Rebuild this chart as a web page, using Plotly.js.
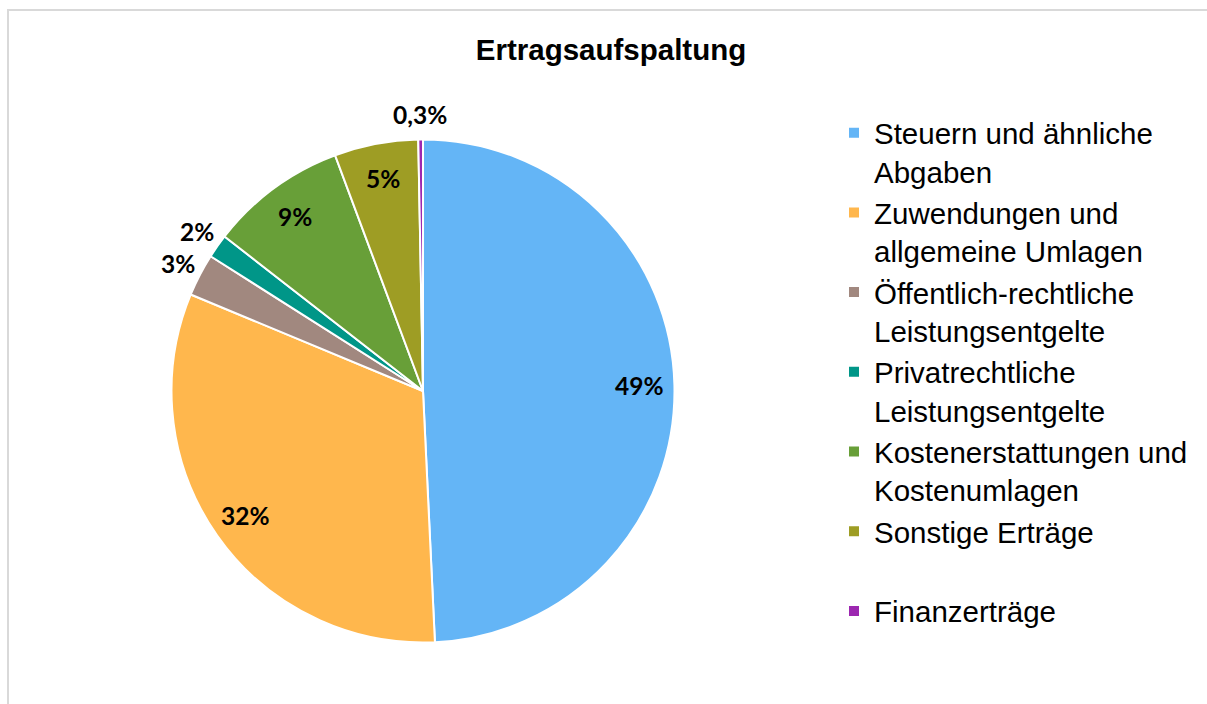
<!DOCTYPE html>
<html>
<head>
<meta charset="utf-8">
<script src="https://cdn.plot.ly/plotly-3.0.1.min.js"></script>
<style>
  html, body { margin: 0; padding: 0; background: #fff; overflow: hidden; }
  #chart { width: 1207px; height: 704px; }
  #frame { position: absolute; left: 7px; top: 9px; width: 1400px; height: 1000px;
           border: 2px solid #d9d9d9; pointer-events: none; }
</style>
</head>
<body>
<div id="chart"></div>
<div id="frame"></div>
<script>
// ---- data ----
const categories = [
  "Steuern und ähnliche<br>Abgaben",
  "Zuwendungen und<br>allgemeine Umlagen",
  "Öffentlich-rechtliche<br>Leistungsentgelte",
  "Privatrechtliche<br>Leistungsentgelte",
  "Kostenerstattungen und<br>Kostenumlagen",
  "Sonstige Erträge<br> ",
  "Finanzerträge"
];
const values = [49.24, 32.02, 2.73, 1.53, 8.79, 5.38, 0.30];
const valueLabels = ["49%", "32%", "3%", "2%", "9%", "5%", "0,3%"];
const labelPlacement = ["inside", "inside", "outside", "outside", "inside", "inside", "outside"];
const colors = ["#64B5F6", "#FFB74D", "#A1887F", "#009688", "#689F38", "#9E9D24", "#9C27B0"];

// ---- geometry ----
const W = 1207, H = 704;
const cx = 423, cy = 391, R = 251.5;
const domX = [(cx - R) / W, (cx + R) / W];
const domY = [(H - cy - R) / H, (H - cy + R) / H];

const total = values.reduce((a, b) => a + b, 0);
let cum = 0;
const annotations = values.map((v, i) => {
  const theta = 2 * Math.PI * (cum + v / 2) / total;
  cum += v;
  const k = labelPlacement[i] === "inside" ? 0.86 : 1.1;
  return {
    xref: "paper", yref: "paper",
    x: cx / W + k * R * Math.sin(theta) / W,
    y: (H - cy) / H + k * R * Math.cos(theta) / H,
    text: "<b>" + valueLabels[i] + "</b>",
    showarrow: false,
    xanchor: "center", yanchor: "middle",
    font: { family: "Lato, 'Open Sans', sans-serif", size: 24.5, color: "#000" }
  };
});

const trace = {
  type: "pie",
  labels: categories,
  values: values,
  sort: false,
  direction: "clockwise",
  rotation: 0,
  textinfo: "none",
  hoverinfo: "label+percent",
  marker: { colors: colors, line: { color: "#ffffff", width: 2 } },
  domain: { x: domX, y: domY }
};

const layout = {
  width: W, height: H,
  margin: { l: 0, r: 0, t: 0, b: 0 },
  paper_bgcolor: "#ffffff",
  title: {
    text: "<b>Ertragsaufspaltung</b>",
    font: { family: "Liberation Sans, Arial, sans-serif", size: 29.5, color: "#000" },
    x: 611 / W, xanchor: "center",
    y: 1 - 50 / H, yanchor: "middle"
  },
  showlegend: true,
  legend: {
    x: 834 / W, xanchor: "left",
    y: 1 - 107 / H, yanchor: "top",
    valign: "top",
    font: { family: "Liberation Sans, Arial, sans-serif", size: 29.5, color: "#000" },
    bgcolor: "rgba(0,0,0,0)"
  },
  annotations: annotations
};

Plotly.newPlot("chart", [trace], layout, { displayModeBar: false, staticPlot: true });
</script>
</body>
</html>
